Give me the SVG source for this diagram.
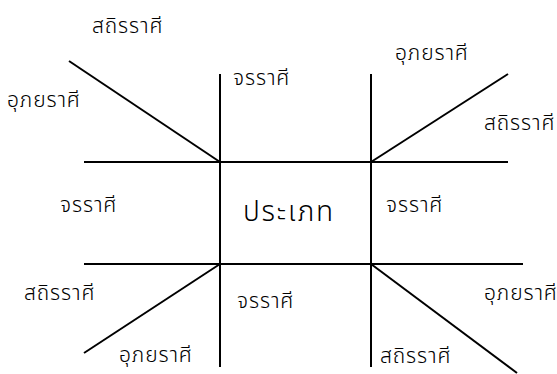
<svg xmlns="http://www.w3.org/2000/svg" width="557" height="374" viewBox="0 0 557 374">
<style>
.l{stroke:#000;stroke-width:2;fill:none}
.t{font-family:"Noto Sans Thai","Noto Sans","DejaVu Sans",sans-serif;font-size:21px;font-weight:300;letter-spacing:0.9px;fill:#000}
.b{font-size:28px;letter-spacing:1.8px}
</style>
<rect width="557" height="374" fill="#fff"/>
<g id="connectors">
<line class="l" x1="220" y1="74" x2="220" y2="367"/>
<line class="l" x1="371" y1="74" x2="371" y2="367"/>
<line class="l" x1="84" y1="162" x2="508" y2="162"/>
<line class="l" x1="84" y1="264" x2="523" y2="264"/>
<line class="l" x1="69" y1="61" x2="220" y2="162"/>
<line class="l" x1="371" y1="162" x2="508" y2="74"/>
<line class="l" x1="220" y1="264" x2="84" y2="353"/>
<line class="l" x1="371" y1="264" x2="517" y2="373"/>
</g>
<g id="center"><text class="t b" x="243" y="221">ประเภท</text></g>
<g id="tl1"><text class="t" x="92" y="33">สถิรราศี</text></g>
<g id="tl2"><text class="t" x="7" y="107">อุภยราศี</text></g>
<g id="tc"><text class="t" x="233" y="85">จรราศี</text></g>
<g id="tr1"><text class="t" x="395" y="60">อุภยราศี</text></g>
<g id="tr2"><text class="t" x="484" y="130">สถิรราศี</text></g>
<g id="ml"><text class="t" x="60" y="212">จรราศี</text></g>
<g id="mr"><text class="t" x="386" y="212">จรราศี</text></g>
<g id="bl1"><text class="t" x="24" y="300">สถิรราศี</text></g>
<g id="bc"><text class="t" x="237" y="308">จรราศี</text></g>
<g id="br1"><text class="t" x="484" y="300">อุภยราศี</text></g>
<g id="bl2"><text class="t" x="119" y="362">อุภยราศี</text></g>
<g id="br2"><text class="t" x="380" y="363">สถิรราศี</text></g>
</svg>
